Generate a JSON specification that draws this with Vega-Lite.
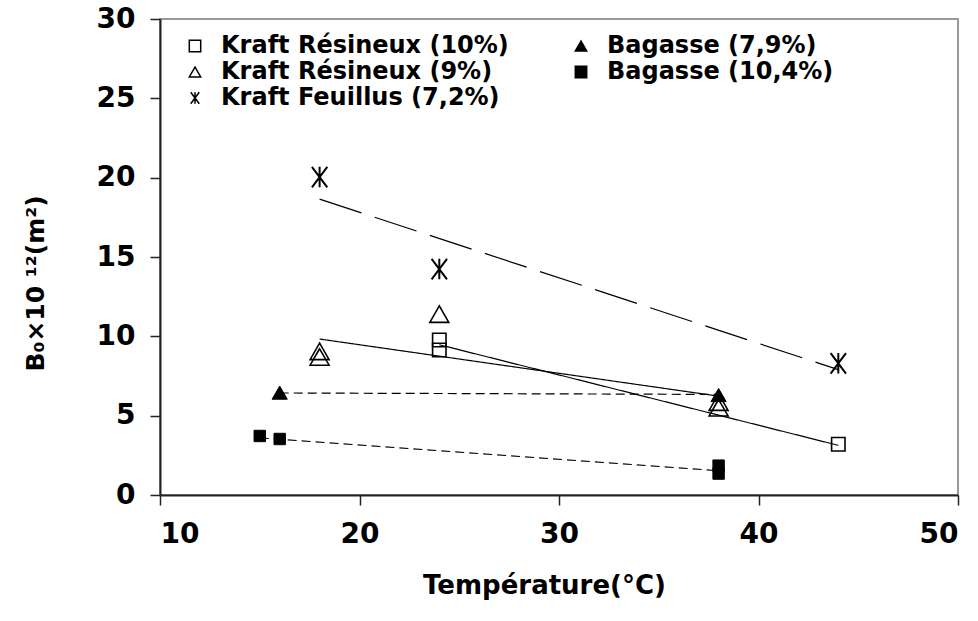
{
  "$schema": "https://vega.github.io/schema/vega-lite/v6.json",
  "width": 798,
  "height": 476,
  "autosize": {"type": "none"},
  "padding": {"left": 160, "top": 19, "right": 20, "bottom": 126},
  "background": "white",
  "config": {
    "view": {"stroke": "#999999", "strokeWidth": 2},
    "font": "DejaVu Sans",
    "legend": {
      "orient": "none", "legendX": 23, "legendY": 15, "columns": 2, "columnPadding": 60, "rowPadding": 2,
      "padding": 0,
      "labelFont": "DejaVu Sans", "labelFontSize": 24, "labelFontWeight": "bold", "labelColor": "black",
      "labelOffset": 14, "symbolSize": 130, "symbolStrokeWidth": 1.5,
      "labelLimit": 400
    }
  },
  "datasets": {
    "pts": [
      {"series": "Kraft Résineux (10%)", "t": 24, "b": 9.77},
      {"series": "Kraft Résineux (10%)", "t": 24, "b": 9.14},
      {"series": "Kraft Résineux (10%)", "t": 44, "b": 3.2},
      {"series": "Kraft Résineux (9%)", "t": 18, "b": 9.05},
      {"series": "Kraft Résineux (9%)", "t": 18, "b": 8.7},
      {"series": "Kraft Résineux (9%)", "t": 24, "b": 11.4},
      {"series": "Kraft Résineux (9%)", "t": 38, "b": 5.85},
      {"series": "Kraft Résineux (9%)", "t": 38, "b": 5.5},
      {"series": "Kraft Feuillus (7,2%)", "t": 18, "b": 20.04},
      {"series": "Kraft Feuillus (7,2%)", "t": 24, "b": 14.24},
      {"series": "Kraft Feuillus (7,2%)", "t": 44, "b": 8.3},
      {"series": "Bagasse (7,9%)", "t": 16, "b": 6.45},
      {"series": "Bagasse (7,9%)", "t": 38, "b": 6.3},
      {"series": "Bagasse (10,4%)", "t": 15, "b": 3.72},
      {"series": "Bagasse (10,4%)", "t": 16, "b": 3.53},
      {"series": "Bagasse (10,4%)", "t": 38, "b": 1.85},
      {"series": "Bagasse (10,4%)", "t": 38, "b": 1.35}
    ],
    "fits": [
      {"fit": "R10", "style": "solid", "t": 24, "b": 9.47},
      {"fit": "R10", "style": "solid", "t": 44, "b": 3.13},
      {"fit": "R9", "style": "solid", "t": 18, "b": 9.83},
      {"fit": "R9", "style": "solid", "t": 38, "b": 6.23},
      {"fit": "F", "style": "long", "t": 18, "b": 18.65},
      {"fit": "F", "style": "long", "t": 44, "b": 7.9},
      {"fit": "B79", "style": "short", "t": 16, "b": 6.43},
      {"fit": "B79", "style": "short", "t": 38, "b": 6.34},
      {"fit": "B104", "style": "short", "t": 15, "b": 3.6},
      {"fit": "B104", "style": "short", "t": 38, "b": 1.53}
    ]
  },
  "encoding": {
    "x": {
      "field": "t", "type": "quantitative",
      "scale": {"domain": [10, 50], "nice": false, "zero": false},
      "axis": {
        "values": [10, 20, 30, 40, 50],
        "title": "Température(°C)",
        "grid": false,
        "domainColor": "#222222", "domainWidth": 2,
        "tickColor": "#222222", "tickWidth": 1.5, "tickSize": 10,
        "labelFont": "DejaVu Sans", "labelFontSize": 28, "labelFontWeight": "bold", "labelColor": "black",
        "labelPadding": 15,
        "titleFont": "DejaVu Sans", "titleFontSize": 26, "titleFontWeight": "bold", "titleColor": "black",
        "titleX": 384, "titleY": 90, "titleBaseline": "middle"
      }
    },
    "y": {
      "field": "b", "type": "quantitative",
      "scale": {"domain": [0, 30], "nice": false},
      "axis": {
        "values": [0, 5, 10, 15, 20, 25, 30],
        "title": "B₀×10 ¹²(m²)",
        "grid": false,
        "domainColor": "#222222", "domainWidth": 2,
        "tickColor": "#222222", "tickWidth": 1.5, "tickSize": 10,
        "labelFont": "DejaVu Sans", "labelFontSize": 28, "labelFontWeight": "bold", "labelColor": "black",
        "labelPadding": 15,
        "titleFont": "DejaVu Sans", "titleFontSize": 25, "titleFontWeight": "bold", "titleColor": "black",
        "titleX": -125, "titleY": 264, "titleBaseline": "middle", "titleAlign": "center", "titleAngle": -90
      }
    }
  },
  "layer": [
    {
      "data": {"name": "pts"},
      "transform": [{"filter": "datum.series === 'Kraft Résineux (10%)'"}],
      "mark": {"type": "point", "strokeWidth": 1.6, "opacity": 1, "size": 180},
      "encoding": {
        "shape": {
          "field": "series", "type": "nominal",
          "scale": {
            "domain": ["Kraft Résineux (10%)", "Kraft Résineux (9%)", "Kraft Feuillus (7,2%)", "Bagasse (7,9%)", "Bagasse (10,4%)"],
            "range": ["square", "triangle-up", "M-0.75,-1L0.75,1M0.75,-1L-0.75,1M0,-1L0,1", "triangle-up", "square"]
          },
          "legend": {"title": null}
        },
        "fill": {
          "field": "series", "type": "nominal",
          "scale": {
            "domain": ["Kraft Résineux (10%)", "Kraft Résineux (9%)", "Kraft Feuillus (7,2%)", "Bagasse (7,9%)", "Bagasse (10,4%)"],
            "range": ["transparent", "transparent", "transparent", "black", "black"]
          },
          "legend": {"title": null}
        },
        "stroke": {
          "field": "series", "type": "nominal",
          "scale": {
            "domain": ["Kraft Résineux (10%)", "Kraft Résineux (9%)", "Kraft Feuillus (7,2%)", "Bagasse (7,9%)", "Bagasse (10,4%)"],
            "range": ["black", "black", "black", "black", "black"]
          },
          "legend": {"title": null}
        }
      }
    },
    {
      "data": {"name": "pts"},
      "transform": [{"filter": "datum.series === 'Kraft Résineux (9%)'"}],
      "mark": {"type": "point", "strokeWidth": 1.6, "opacity": 1, "size": 360},
      "encoding": {
        "shape": {"field": "series", "type": "nominal", "legend": {"title": null}},
        "fill": {"field": "series", "type": "nominal", "legend": {"title": null}},
        "stroke": {"field": "series", "type": "nominal", "legend": {"title": null}}
      }
    },
    {
      "data": {"name": "pts"},
      "transform": [{"filter": "datum.series === 'Kraft Feuillus (7,2%)'"}],
      "mark": {"type": "point", "strokeWidth": 2, "opacity": 1, "size": 420},
      "encoding": {
        "shape": {"field": "series", "type": "nominal", "legend": {"title": null}},
        "fill": {"field": "series", "type": "nominal", "legend": {"title": null}},
        "stroke": {"field": "series", "type": "nominal", "legend": {"title": null}}
      }
    },
    {
      "data": {"name": "pts"},
      "transform": [{"filter": "datum.series === 'Bagasse (7,9%)'"}],
      "mark": {"type": "point", "strokeWidth": 1, "opacity": 1, "size": 230},
      "encoding": {
        "shape": {"field": "series", "type": "nominal", "legend": {"title": null}},
        "fill": {"field": "series", "type": "nominal", "legend": {"title": null}},
        "stroke": {"field": "series", "type": "nominal", "legend": {"title": null}}
      }
    },
    {
      "data": {"name": "pts"},
      "transform": [{"filter": "datum.series === 'Bagasse (10,4%)'"}],
      "mark": {"type": "point", "strokeWidth": 1, "opacity": 1, "size": 130},
      "encoding": {
        "shape": {"field": "series", "type": "nominal", "legend": {"title": null}},
        "fill": {"field": "series", "type": "nominal", "legend": {"title": null}},
        "stroke": {"field": "series", "type": "nominal", "legend": {"title": null}}
      }
    },
    {
      "data": {"name": "fits"},
      "mark": {"type": "line", "color": "black", "strokeWidth": 1.2},
      "encoding": {
        "detail": {"field": "fit", "type": "nominal"},
        "strokeDash": {
          "field": "style", "type": "nominal",
          "scale": {"domain": ["solid", "long", "short"], "range": [[1, 0], [44, 14], [9, 5]]},
          "legend": null
        }
      }
    }
  ]
}
